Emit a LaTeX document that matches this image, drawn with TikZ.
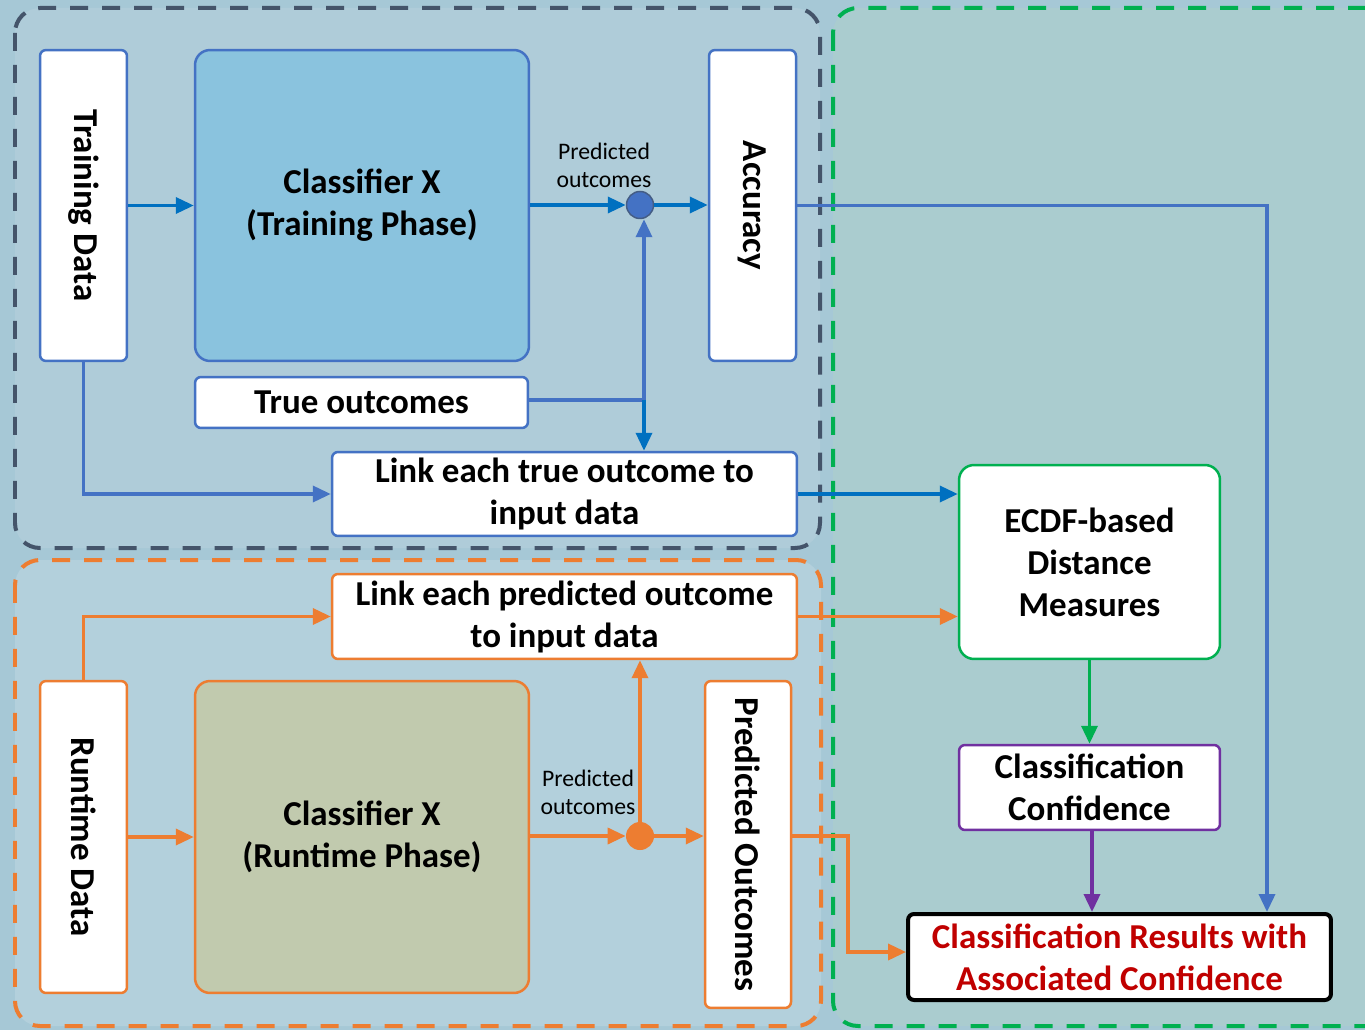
\documentclass[tikz,border=0pt]{standalone}
\usepackage{fontspec}
\setmainfont{Carlito}
\usetikzlibrary{arrows.meta}
\definecolor{bgblue}{HTML}{A6C8D6}
\definecolor{topfill}{HTML}{AFCCD9}
\definecolor{botfill}{HTML}{B3D0DC}
\definecolor{grnfill}{HTML}{AACCCF}
\definecolor{slate}{HTML}{44546A}
\definecolor{lineblue}{HTML}{4472C4}
\definecolor{arrblue}{HTML}{0070C0}
\definecolor{orng}{HTML}{ED7D31}
\definecolor{grn}{HTML}{00B050}
\definecolor{purp}{HTML}{7030A0}
\definecolor{darkred}{HTML}{C00000}
\definecolor{clsblue}{HTML}{8AC3DE}
\definecolor{clsolive}{HTML}{C1CAAE}
\tikzset{
  x=0.02cm, y=-0.02cm,
  panel/.style={line width=0.08cm, dash pattern=on 0.36cm off 0.28cm, rounded corners=0.5cm},
  box/.style={draw, fill=white, line width=0.05cm, rounded corners=0.12cm, inner sep=0pt,
    align=center, font=\bfseries\fontsize{19.9}{23.9}\selectfont},
  bigbox/.style={box, rounded corners=0.3cm},
  tip/.style={-{Triangle[length=0.36cm,width=0.32cm]}},
  conn/.style={line width=0.07cm, tip},
  small/.style={align=center, inner sep=0pt, font=\fontsize{13.5}{15.9}\selectfont},
}
\begin{document}
\begin{tikzpicture}
% canvas
\fill[bgblue] (0,0) rectangle (1365,1030);
\useasboundingbox (0,0) rectangle (1365,1030);

% group panels
\fill[grnfill, rounded corners=0.5cm] (833,8) rectangle (1390,1026);
\fill[topfill, rounded corners=0.5cm] (15,8) rectangle (820,548);
\fill[botfill, rounded corners=0.5cm] (15,560) rectangle (821,1026);
\draw[panel, grn] (833,8) rectangle (1390,1026);
\draw[panel, slate] (15,8) rectangle (820,548);
\draw[panel, orng] (15,560) rectangle (821,1026);

% training phase
\node[box, draw=lineblue, minimum width=1.74cm, minimum height=6.22cm] (tdata) at (83.5,205.5)
  {\rotatebox{-90}{Training Data}};
\node[bigbox, draw=lineblue, fill=clsblue, minimum width=6.68cm, minimum height=6.22cm] (clsT) at (362,205.5)
  {Classifier X\\(Training Phase)};
\node[box, draw=lineblue, minimum width=6.66cm, minimum height=1.02cm] (trueo) at (361.5,402.5)
  {True outcomes};
\node[box, draw=lineblue, minimum width=1.74cm, minimum height=6.22cm] (acc) at (752.5,205.5)
  {\rotatebox{-90}{Accuracy}};
\node[box, draw=lineblue, minimum width=9.3cm, minimum height=1.68cm] (linkT) at (564.5,494)
  {Link each true outcome to\\input data};
\node[circle, draw=slate!70!lineblue, fill=lineblue, line width=0.03cm, minimum size=0.54cm, inner sep=0pt] (dotT) at (640,205) {};
\node[small] (predT) at (604,165) {Predicted\\outcomes};

% runtime phase
\node[box, draw=orng, minimum width=9.3cm, minimum height=1.7cm] (linkP) at (564.5,616.5)
  {Link each predicted outcome\\to input data};
\node[box, draw=orng, minimum width=1.74cm, minimum height=6.24cm] (rdata) at (83.5,837)
  {\rotatebox{-90}{Runtime Data}};
\node[bigbox, draw=orng, fill=clsolive, minimum width=6.68cm, minimum height=6.24cm] (clsR) at (362,837)
  {Classifier X\\(Runtime Phase)};
\node[box, draw=orng, minimum width=1.72cm, minimum height=6.54cm] (pout) at (748,844.5)
  {\rotatebox{-90}{Predicted Outcomes}};
\node[circle, fill=orng, minimum size=0.56cm, inner sep=0pt] (dotR) at (640,836) {};
\node[small] (predR) at (588,792) {Predicted\\outcomes};

% confidence estimation
\node[bigbox, draw=grn, minimum width=5.22cm, minimum height=3.88cm] (ecdf) at (1089.5,562)
  {ECDF-based\\Distance\\Measures};
\node[box, draw=purp, minimum width=5.22cm, minimum height=1.7cm] (conf) at (1089.5,787.5)
  {Classification\\Confidence};
\node[box, draw=black, line width=0.08cm, text=darkred, minimum width=8.46cm, minimum height=1.72cm] (res) at (1119.5,957)
  {Classification Results with\\Associated Confidence};

% bend points
\coordinate (tjoin) at (644,400);
\coordinate (accbend) at (1267,205.5);
\coordinate (pbend) at (848,952);

% training connectors
\draw[conn, arrblue] (tdata.east) -- (clsT.west);
\draw[conn, arrblue] (clsT.east |- dotT) -- (dotT.west);
\draw[conn, arrblue] (dotT.east) -- (acc.west |- dotT);
\draw[line width=0.07cm, lineblue] (trueo.east |- tjoin) -- (tjoin);
\draw[conn, lineblue] (tjoin) -- (dotT.south -| tjoin);
\draw[conn, arrblue] (tjoin) -- (linkT.north -| tjoin);
\draw[conn, lineblue] (tdata.south) |- (linkT.west);
\draw[conn, arrblue] (linkT.east) -- (ecdf.west |- linkT.east);
\draw[conn, lineblue] (acc.east) -- (accbend) -- (accbend |- res.north);

% runtime connectors
\draw[conn, orng] (rdata.north) |- (linkP.west);
\draw[conn, orng] (rdata.east) -- (clsR.west);
\draw[conn, orng] (clsR.east |- dotR) -- (dotR.west);
\draw[conn, orng] (dotR.east) -- (pout.west |- dotR);
\draw[conn, orng] (dotR.center) -- (linkP.south -| dotR);
\draw[conn, orng] (linkP.east) -- (ecdf.west |- linkP.east);
\draw[conn, orng] (pout.east |- dotR) -| (pbend) -- (res.west |- pbend);

% confidence connectors
\draw[conn, grn] (ecdf.south) -- (conf.north);
\draw[conn, purp] ([xshift=0.05cm]conf.south) -- ([xshift=0.05cm]conf.south |- res.north);
\end{tikzpicture}
\end{document}
